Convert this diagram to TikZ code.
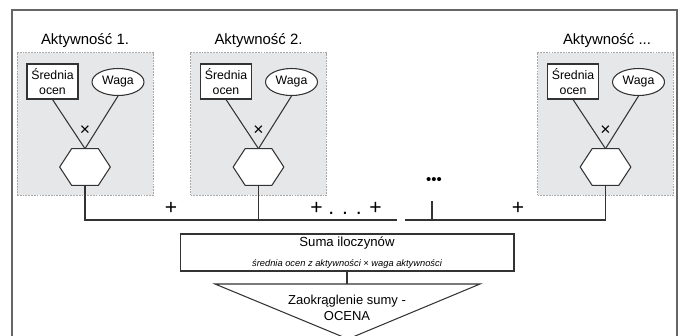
\documentclass[tikz,border=0pt]{standalone}
\usepackage{fontspec}
\setmainfont{Liberation Sans}
\usetikzlibrary{shapes.geometric}
\definecolor{boxgray}{HTML}{E6E7E8}
\definecolor{linegray}{HTML}{333333}
\tikzset{
    activity/.style={draw=gray!70, fill=boxgray, line width=0.4pt, dash pattern=on 1pt off 0.6pt, minimum width=2.72cm, minimum height=2.86cm},
    heading/.style={font=\fontsize{8.5}{10}\selectfont},
    mean/.style={draw=linegray, fill=white, line width=0.6pt, rectangle, minimum width=1.02cm, minimum height=0.7cm, inner sep=0pt, align=center, font=\fontsize{7}{8.2}\selectfont},
    weight/.style={draw=linegray, fill=white, line width=0.6pt, ellipse, minimum width=1.04cm, minimum height=0.54cm, inner sep=0pt, font=\fontsize{7}{8}\selectfont},
    product/.style={rectangle, minimum width=1cm, minimum height=0.72cm, inner sep=0pt},
    link/.style={draw=linegray, line width=0.6pt},
    times/.style={font=\fontsize{10}{12}\selectfont},
    op/.style={font=\fontsize{12}{14}\selectfont}
}
% flat-topped hexagon round a product node
\newcommand{\hexround}[1]{%
  \draw[link, fill=white] (#1.west) -- ([xshift=0.24cm]#1.north west) -- ([xshift=-0.24cm]#1.north east)
    -- (#1.east) -- ([xshift=-0.24cm]#1.south east) -- ([xshift=0.24cm]#1.south west) -- cycle;}

\begin{document}
\begin{tikzpicture}[x=0.02cm, y=-0.02cm]
\useasboundingbox (0,0) rectangle (682,335);
\begin{scope}
\clip (0,0) rectangle (682,335);
% outer frame
\draw[gray!80!black, line width=1pt] (12,345) -- (12,10) -- (677,10) -- (677,345);

% activity 1
\node[activity] (box1) at (85,124) {};
\node[heading] (head1) at (85,41) {Aktywność 1.};
\node[mean] (mean1) at (52.5,81.5) {Średnia\\ocen};
\node[weight] (weight1) at (118,82) {Waga};
\node[product] (prod1) at (85,167) {};
\hexround{prod1}
\draw[link] (mean1.south) -- (prod1.north);
\draw[link] (weight1.south) -- (prod1.north);
\node[times] (times1) at (85,131) {×};

% activity 2
\node[activity] (box2) at (258.5,124) {};
\node[heading] (head2) at (258.5,41) {Aktywność 2.};
\node[mean] (mean2) at (226,81.5) {Średnia\\ocen};
\node[weight] (weight2) at (291.5,82) {Waga};
\node[product] (prod2) at (258.5,167) {};
\hexround{prod2}
\draw[link] (mean2.south) -- (prod2.north);
\draw[link] (weight2.south) -- (prod2.north);
\node[times] (times2) at (258.5,131) {×};

% activity ...
\node[activity] (box3) at (605.5,124) {};
\node[heading] (head3) at (607,41) {Aktywność ...};
\node[mean] (mean3) at (573,81.5) {Średnia\\ocen};
\node[weight] (weight3) at (638.5,82) {Waga};
\node[product] (prod3) at (605.5,167) {};
\hexround{prod3}
\draw[link] (mean3.south) -- (prod3.north);
\draw[link] (weight3.south) -- (prod3.north);
\node[times] (times3) at (605.5,131) {×};

% sum line
\coordinate (busL) at (397,220);
\coordinate (busR) at (405,220);
\coordinate (more) at (432,201);
\draw[link] (prod1.south) |- (busL);
\draw[link] (prod2.south) -- (prod2.south |- busL);
\draw[link] (prod3.south) |- (busR);
\draw[link] (more) -- (more |- busR);
\node[font=\fontsize{8.5}{10}\selectfont] (dots) at (434,181) {•••};
\node[op] (plus1) at (171,208) {+};
\node[op] (plus2) at (346,208) {+ . . . +};
\node[op] (plus3) at (518,208) {+};

% sum and rounding
\node[draw=linegray, line width=0.6pt, minimum width=6.68cm, minimum height=0.74cm, align=center, inner sep=0pt, font=\fontsize{7.5}{9}\selectfont] (sum) at (347,252.5)
    {Suma iloczynów\\[2pt]{\fontsize{5.3}{6}\selectfont\itshape średnia ocen z aktywności × waga aktywności}};
\coordinate (round) at (347,284);
\draw[link] (sum.south) -- (round);
\draw[link] (round) ++(-132,0) -- ++(265,0) -- (348,339) -- cycle;
\node[align=center, font=\fontsize{7.4}{9.5}\selectfont] (grade) at (347,308) {Zaokrąglenie sumy -\\OCENA};
\end{scope}
\end{tikzpicture}
\end{document}
